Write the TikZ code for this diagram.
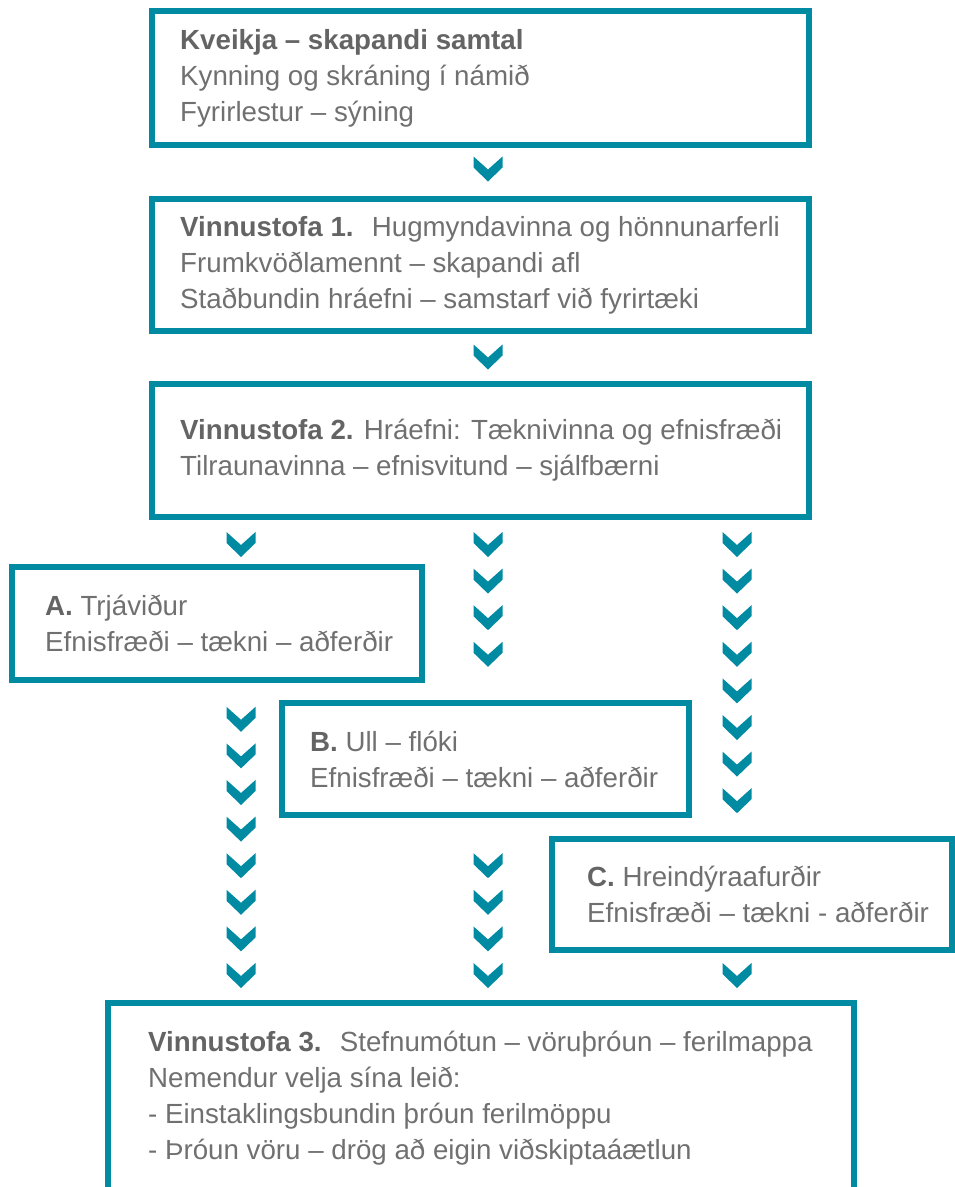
\documentclass[tikz,border=0pt]{standalone}
\usepackage{fontspec}
\setmainfont{Liberation Sans}
\usetikzlibrary{positioning}

\definecolor{boxteal}{RGB}{0,139,163}
\definecolor{txtgray}{RGB}{112,112,112}
\definecolor{headgray}{RGB}{100,100,100}

\tikzset{
  stepbox/.style={draw=boxteal, line width=6pt, rectangle, outer sep=0pt, inner sep=0pt},
  boxtext/.style={align=left, inner sep=0pt, text=txtgray, font=\fontsize{27.7}{36}\selectfont},
  chev/.pic={\fill[boxteal] (-14.5,-12.5) -- (0,0.5) -- (14.5,-12.5) -- (14.5,-1.5) -- (0,12.5) -- (-14.5,-1.5) -- cycle;}
}
\newcommand{\hd}[1]{\textcolor{headgray}{\bfseries #1}}

\begin{document}
\begin{tikzpicture}[x=1pt, y=-1pt]

  \clip (0,0) rectangle (955,1187);

  % Boxes
  \node[stepbox, minimum width=657pt, minimum height=134pt] (kveikja) at (480.5,78) {};
  \node[stepbox, minimum width=657pt, minimum height=132pt] (vs1) at (480.5,265) {};
  \node[stepbox, minimum width=657pt, minimum height=133pt] (vs2) at (480.5,450.5) {};
  \node[stepbox, minimum width=410pt, minimum height=113pt] (trja) at (217,623.5) {};
  \node[stepbox, minimum width=407pt, minimum height=112pt] (ull) at (485.5,759) {};
  \node[stepbox, minimum width=400pt, minimum height=111pt] (hrein) at (752,894.5) {};
  \node[stepbox, minimum width=746pt, minimum height=190pt] (vs3) at (481,1098) {};

  % Texts
  \node[boxtext, right=28pt of kveikja.west] (kveikja-t) {\hd{Kveikja – skapandi samtal}\\
    Kynning og skráning í námið\\ Fyrirlestur – sýning};
  \node[boxtext, right=28pt of vs1.west] (vs1-t) {\hd{Vinnustofa 1.}\hspace{8pt} Hugmyndavinna og hönnunarferli\\
    Frumkvöðlamennt – skapandi afl\\ Staðbundin hráefni – samstarf við fyrirtæki};
  \node[boxtext, right=28pt of vs2.west] (vs2-t) {\hd{Vinnustofa 2.} Hráefni: Tæknivinna og efnisfræði\\
    Tilraunavinna – efnisvitund – sjálfbærni};
  \node[boxtext, right=33pt of trja.west] (trja-t) {\hd{A.} Trjáviður\\ Efnisfræði – tækni – aðferðir};
  \node[boxtext, right=28pt of ull.west] (ull-t) {\hd{B.} Ull – flóki\\ Efnisfræði – tækni – aðferðir};
  \node[boxtext, right=35pt of hrein.west] (hrein-t) {\hd{C.} Hreindýraafurðir\\ Efnisfræði – tækni - aðferðir};
  \node[boxtext, right=40pt of vs3.west] (vs3-t) {\hd{Vinnustofa 3.}\hspace{8pt} Stefnumótun – vöruþróun – ferilmappa\\
    Nemendur velja sína leið:\\ - Einstaklingsbundin þróun ferilmöppu\\ - Þróun vöru – drög að eigin viðskiptaáætlun};

  % Chevrons
  \pic at (488,169) {chev};
  \pic at (488,357) {chev};
  \pic at (241,544.5) {chev};
  \foreach \i in {0,...,3} \pic at (488,544.5+\i*36.6) {chev};
  \foreach \i in {0,...,7} \pic at (737,544.5+\i*36.6) {chev};
  \foreach \i in {0,...,7} \pic at (241,975.5-\i*36.6) {chev};
  \foreach \i in {0,...,3} \pic at (488,975.5-\i*36.6) {chev};
  \pic at (737,975.5) {chev};

\end{tikzpicture}
\end{document}
